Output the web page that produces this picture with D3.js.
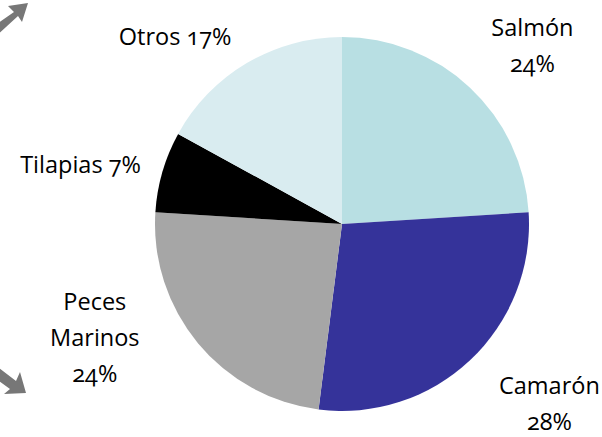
<!DOCTYPE html>
<html>
<head>
<meta charset="utf-8">
<script src="https://cdn.jsdelivr.net/npm/d3@7"></script>
<style>
  body { margin: 0; background: #fff; }
  svg text { font-family: "Open Sans", "Noto Sans", sans-serif; font-variant-numeric: oldstyle-nums; font-feature-settings: "onum"; }
</style>
</head>
<body>
<div id="chart"></div>
<script>
// data
const categories = ["Salmón", "Camarón", "Peces Marinos", "Tilapias", "Otros"];
const shares = [24, 28, 24, 7, 17];
const colors = ["#b8dfe3", "#35339a", "#a6a6a6", "#000000", "#d9ecf0"];
// how each label is broken into lines
const labelLines = [
  ["Salmón", "24%"],
  ["Camarón", "28%"],
  ["Peces", "Marinos", "24%"],
  ["Tilapias 7%"],
  ["Otros 17%"]
];

const width = 602;
const height = 437;
const cx = 342, cy = 224, radius = 187;

const svg = d3.select("#chart")
  .append("svg")
  .attr("width", width)
  .attr("height", height);

// the two gray arrows cut off at the left edge
svg.append("path")
  .attr("d", "M-12,30 L14,12 L8,6 L28,3 L22,22 L18,16 L-6,38 Z")
  .attr("fill", "#777");
svg.append("path")
  .attr("d", "M-6,364 L16,381 L20,372 L26,393 L4,394 L10,389 L-12,373 Z")
  .attr("fill", "#777");

const pie = d3.pie().sort(null).value(d => d);
const arcs = pie(shares);
const arc = d3.arc().innerRadius(0).outerRadius(radius);
const labelArc = d3.arc().innerRadius(265).outerRadius(265);

const g = svg.append("g").attr("transform", `translate(${cx},${cy})`);

g.selectAll("path")
  .data(arcs)
  .enter().append("path")
  .attr("d", arc)
  .style("fill", (d, i) => colors[i]);

// nudges from the label arc centroid to where the labels sit
const nudges = [[9, 23], [26, -5], [-43, -47], [-7, 23], [-32, 49]];
const lineHeight = 36;

arcs.forEach(function (d, i) {
  const c = labelArc.centroid(d);
  const x = c[0] + nudges[i][0];
  const y = c[1] + nudges[i][1];
  const lines = labelLines[i];
  const t = g.append("text")
    .attr("text-anchor", "middle")
    .style("font-size", "23.5px")
    .style("fill", "#000");
  lines.forEach(function (line, k) {
    t.append("tspan")
      .attr("x", x)
      .attr("y", y - (lines.length - 1) * lineHeight / 2 + k * lineHeight)
      .text(line);
  });
});
</script>
</body>
</html>
